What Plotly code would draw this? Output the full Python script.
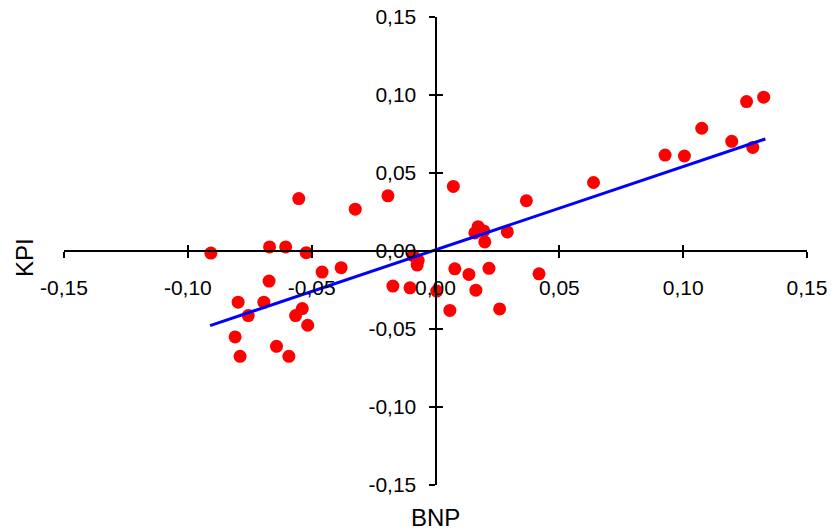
import plotly.graph_objects as go

# BNP (x) and KPI (y) observations
bnp = [-0.0907, -0.0670, -0.0605, -0.0522, -0.0552, -0.0324, -0.0192, -0.0458,
       -0.0381, -0.0672, -0.0797, -0.0693, -0.0756, -0.0538, -0.0565, -0.0516,
       -0.0809, -0.0789, -0.0642, -0.0592, -0.0172, -0.0103, -0.0090, -0.0070,
       -0.0074, 0.0005, 0.0058, 0.0072, 0.0078, 0.0135, 0.0163, 0.0216,
       0.0259, 0.0418, 0.0172, 0.0159, 0.0195, 0.0199, 0.0290, 0.0367,
       0.0638, 0.0927, 0.1005, 0.1075, 0.1196, 0.1281, 0.1256, 0.1325]
kpi = [-0.0013, 0.0026, 0.0026, -0.0011, 0.0336, 0.0268, 0.0354, -0.0135,
       -0.0107, -0.0193, -0.0328, -0.0328, -0.0414, -0.0369, -0.0414, -0.0476,
       -0.0551, -0.0675, -0.0611, -0.0675, -0.0225, -0.0236, -0.0030, -0.0060,
       -0.0090, -0.0257, -0.0381, 0.0414, -0.0114, -0.0150, -0.0251, -0.0111,
       -0.0371, -0.0146, 0.0156, 0.0116, 0.0129, 0.0058, 0.0122, 0.0322,
       0.0439, 0.0615, 0.0609, 0.0787, 0.0703, 0.0664, 0.0958, 0.0986]

# Linear trend line end points
trend_bnp = [-0.0910, 0.1332]
trend_kpi = [-0.0478, 0.0718]

# Ticks
tick_vals = [-0.15, -0.10, -0.05, 0.0, 0.05, 0.10, 0.15]
tick_text = ["-0,15", "-0,10", "-0,05", "0,00", "0,05", "0,10", "0,15"]

x_title = "BNP"
y_title = "KPI"

font_family = "Arial, Liberation Sans, sans-serif"

fig = go.Figure()
fig.add_trace(go.Scatter(x=bnp, y=kpi, mode="markers",
                         marker=dict(color="#FF0000", size=13, line=dict(width=0)),
                         showlegend=False, hoverinfo="x+y"))
fig.add_trace(go.Scatter(x=trend_bnp, y=trend_kpi, mode="lines",
                         line=dict(color="#0000FF", width=3),
                         showlegend=False))
# dummy trace to realise the overlay axes (inner half of crossing ticks)
fig.add_trace(go.Scatter(x=[None], y=[None], xaxis="x2", yaxis="y2",
                         mode="markers", showlegend=False, hoverinfo="skip"))

common = dict(range=[-0.15, 0.15], tickvals=tick_vals, ticktext=tick_text,
              showgrid=False, zeroline=False, anchor="free", position=0.5,
              tickcolor="black", tickwidth=1.5, ticklen=6, automargin=False,
              ticklabeloverflow="allow",
              tickfont=dict(family=font_family, size=21, color="black"))

fig.update_layout(
    template="none",
    width=827, height=524,
    margin=dict(l=56, r=28, t=9, b=47, autoexpand=False),
    paper_bgcolor="white", plot_bgcolor="white",
    font=dict(family=font_family, color="black"),
    xaxis=dict(**common, domain=[0, 1], ticks="outside", showline=True,
               linecolor="black", linewidth=2, ticklabelstandoff=12),
    yaxis=dict(**common, domain=[0, 1], ticks="outside", showline=True,
               linecolor="black", linewidth=2, ticklabelstandoff=8),
    xaxis2=dict(**common, overlaying="x",
                ticks="inside", showline=False, showticklabels=False),
    yaxis2=dict(**common, overlaying="y",
                ticks="inside", showline=False, showticklabels=False),
    annotations=[
        dict(text=x_title, xref="paper", yref="paper", x=0.5, y=0,
             xanchor="center", yanchor="middle", yshift=-32, showarrow=False,
             font=dict(family=font_family, size=24, color="black")),
        dict(text=y_title, xref="paper", yref="paper", x=0, y=0.5,
             xanchor="center", yanchor="middle", xshift=-40, yshift=-7,
             textangle=-90, showarrow=False,
             font=dict(family=font_family, size=24, color="black")),
    ],
)

fig.write_html("out.html")
